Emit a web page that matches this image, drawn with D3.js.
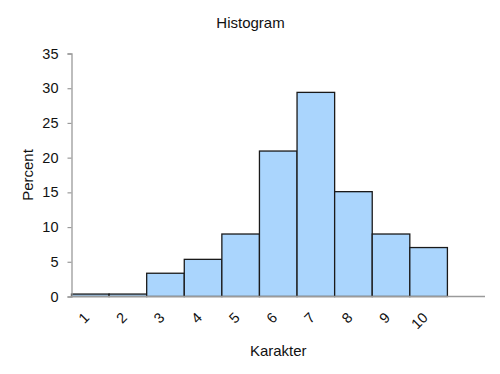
<!DOCTYPE html>
<html>
<head>
<meta charset="utf-8">
<script src="https://cdn.jsdelivr.net/npm/d3@7"></script>
<style>
  html, body { margin: 0; padding: 0; background: #fff; }
  text { font-family: "Liberation Sans", Arial, Helvetica, sans-serif; fill: #111; }
</style>
</head>
<body>
<svg id="chart" width="500" height="374"></svg>
<script>
const categories = ["1", "2", "3", "4", "5", "6", "7", "8", "9", "10"];
const percent = [0.35, 0.35, 3.35, 5.35, 9.0, 20.95, 29.4, 15.1, 9.0, 7.05];
const yTicks = [0, 5, 10, 15, 20, 25, 30, 35];
const emptySlots = 1;
const title = "Histogram";
const xTitle = "Karakter";
const yTitle = "Percent";

const svg = d3.select("#chart");
const mLeft = 71.5, mRight = 485, mTop = 53.5, mBottom = 296.5;

const slots = d3.range(categories.length + emptySlots);
const x = d3.scaleBand().domain(slots).range([mLeft, mRight]).paddingInner(0).paddingOuter(0);
const y = d3.scaleLinear().domain([0, 35]).range([mBottom, mTop]);

// bars
svg.append("g").selectAll("rect")
  .data(percent)
  .join("rect")
  .attr("x", (d, i) => x(i))
  .attr("y", d => y(d))
  .attr("width", x.bandwidth())
  .attr("height", d => y(0) - y(d))
  .attr("fill", "#aad5fd")
  .attr("stroke", "#1a1a1a")
  .attr("stroke-width", 1.3);

// y axis
const yAxis = svg.append("g")
  .attr("transform", `translate(${mLeft},0)`)
  .call(d3.axisLeft(y).tickValues(yTicks).tickSize(4).tickPadding(9).tickFormat(d3.format("d")));
yAxis.select(".domain").attr("stroke", "#9a9a9a").attr("stroke-width", 1.3);
yAxis.selectAll(".tick line").attr("stroke", "#9a9a9a").attr("stroke-width", 1.2);
yAxis.selectAll(".tick text").style("font-size", "14.5px").attr("fill", "#111");

// x axis
const xAxis = svg.append("g")
  .attr("transform", `translate(0,${mBottom})`)
  .call(d3.axisBottom(x).tickSize(0).tickValues(d3.range(categories.length)).tickFormat(i => categories[i]));
xAxis.select(".domain").attr("stroke", "#9a9a9a").attr("stroke-width", 1.3).attr("d", `M${mLeft},0H${mRight}`);
xAxis.selectAll(".tick text")
  .style("font-size", "14.5px")
  .attr("fill", "#111")
  .attr("text-anchor", "end")
  .attr("dy", null)
  .attr("y", 0)
  .attr("transform", "translate(0,22) rotate(-45)");

// titles
svg.append("text").attr("x", 250.5).attr("y", 28).attr("text-anchor", "middle")
  .style("font-size", "15px").text(title);
svg.append("text").attr("x", (mLeft + mRight) / 2).attr("y", 356).attr("text-anchor", "middle")
  .style("font-size", "15px").text(xTitle);
svg.append("text").attr("transform", `translate(33,${(mTop + mBottom) / 2}) rotate(-90)`)
  .attr("text-anchor", "middle").style("font-size", "15px").text(yTitle);
</script>
</body>
</html>
